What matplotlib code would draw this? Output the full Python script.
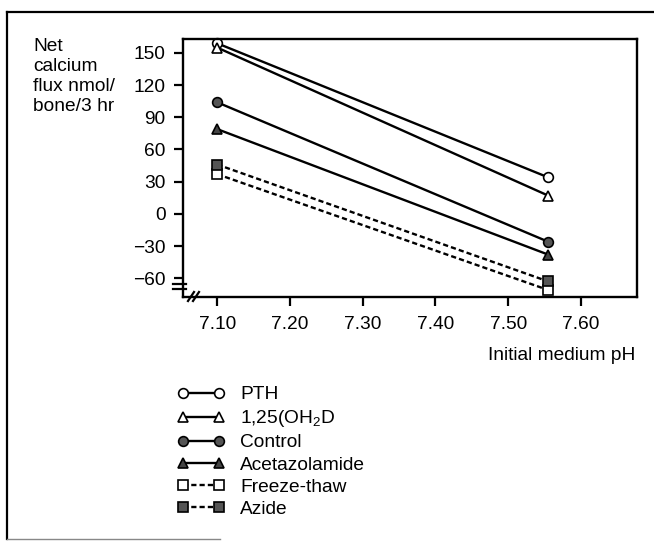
import matplotlib
matplotlib.use("Agg")
import matplotlib.pyplot as plt
from matplotlib.lines import Line2D

plt.rcParams['font.family'] = ['Liberation Sans', 'DejaVu Sans']
plt.rcParams['mathtext.default'] = 'regular'

# Initial medium pH values and net calcium flux (nmol/bone/3 hr)
ph = [7.10, 7.555]
series_names = ["PTH", "1,25(OH$_2$D", "Control", "Acetazolamide", "Freeze-thaw", "Azide"]
pth = [159, 34]
vitd = [155, 17]
control = [104, -26]
acetazolamide = [79, -38]
freeze_thaw = [37, -71]
azide = [46, -63]

x_ticks = [7.10, 7.20, 7.30, 7.40, 7.50, 7.60]
x_ticklabels = ["7.10", "7.20", "7.30", "7.40", "7.50", "7.60"]
y_ticks = [150, 120, 90, 60, 30, 0, -30, -60]
y_ticklabels = ["150", "120", "90", "60", "30", "0", "\u221230", "\u221260"]

W, H = 654, 541
fig = plt.figure(figsize=(W / 100, H / 100), dpi=100)
fig.patch.set_facecolor("white")

def fx(px):
    return px / W

def fy(py):
    return 1 - py / H

left, right, top, bottom = 183, 637, 39, 297
ax = fig.add_axes([fx(left), fy(bottom), fx(right - left), (bottom - top) / H])

fs = 13.8
styles = [
    (pth, dict(marker="o", mfc="white", ls="-")),
    (vitd, dict(marker="^", mfc="white", ls="-")),
    (control, dict(marker="o", mfc="#555555", ls="-")),
    (acetazolamide, dict(marker="^", mfc="#444444", ls="-")),
    (freeze_thaw, dict(marker="s", mfc="white", ls=(0, (2.2, 1.3)))),
    (azide, dict(marker="s", mfc="#555555", ls=(0, (2.2, 1.3)))),
]
handles = []
for (vals, st), name in zip(styles, series_names):
    ms = 7 if st["marker"] != "s" else 6.5
    ln, = ax.plot(ph, vals, color="black", lw=1.7, marker=st["marker"],
                  mfc=st["mfc"], mec="black", mew=1.2, ms=ms,
                  linestyle=st["ls"], label=name, clip_on=False)
    handles.append(ln)

ax.set_xlim(7.053, 7.677)
ax.set_ylim(-77.5, 163)
ax.set_xticks(x_ticks)
ax.set_xticklabels(x_ticklabels)
ax.set_yticks(y_ticks)
ax.set_yticklabels(y_ticklabels)
ax.tick_params(axis="both", direction="out", length=6.5, width=1.6,
               labelsize=fs, color="black")
ax.tick_params(axis="x", pad=7)
ax.tick_params(axis="y", pad=6)
for sp in ax.spines.values():
    sp.set_linewidth(1.7)

# axis break marks
for yy in (283.5, 288.5):
    fig.add_artist(Line2D([fx(173), fx(186)], [fy(yy), fy(yy)], color="black", lw=1.6))
for xx in (188, 193):
    fig.add_artist(Line2D([fx(xx), fx(xx + 6)], [fy(301), fy(292)], color="black", lw=1.6))

# y-axis caption
fig.text(fx(33), fy(38), "Net\ncalcium\nflux nmol/\nbone/3 hr", ha="left", va="top",
         fontsize=fs, linespacing=1.22)
# x-axis caption
fig.text(fx(635), fy(355), "Initial medium pH", ha="right", va="center", fontsize=fs)

leg = fig.legend(handles=handles, loc="upper left", bbox_to_anchor=(fx(177), fy(386)),
                 frameon=False, fontsize=fs, numpoints=2, handlelength=2.5,
                 handletextpad=0.8, labelspacing=0.25, borderaxespad=0, borderpad=0)

# outer frame
fig.add_artist(Line2D([fx(7), fx(7)], [fy(12), fy(539)], color="black", lw=1.6))
fig.add_artist(Line2D([fx(7), 1.0], [fy(12), fy(12)], color="black", lw=1.6))
fig.add_artist(Line2D([fx(7), fx(220)], [fy(539), fy(539)], color="#888888", lw=1.0))

fig.savefig("out.png", dpi=100, facecolor="white")
